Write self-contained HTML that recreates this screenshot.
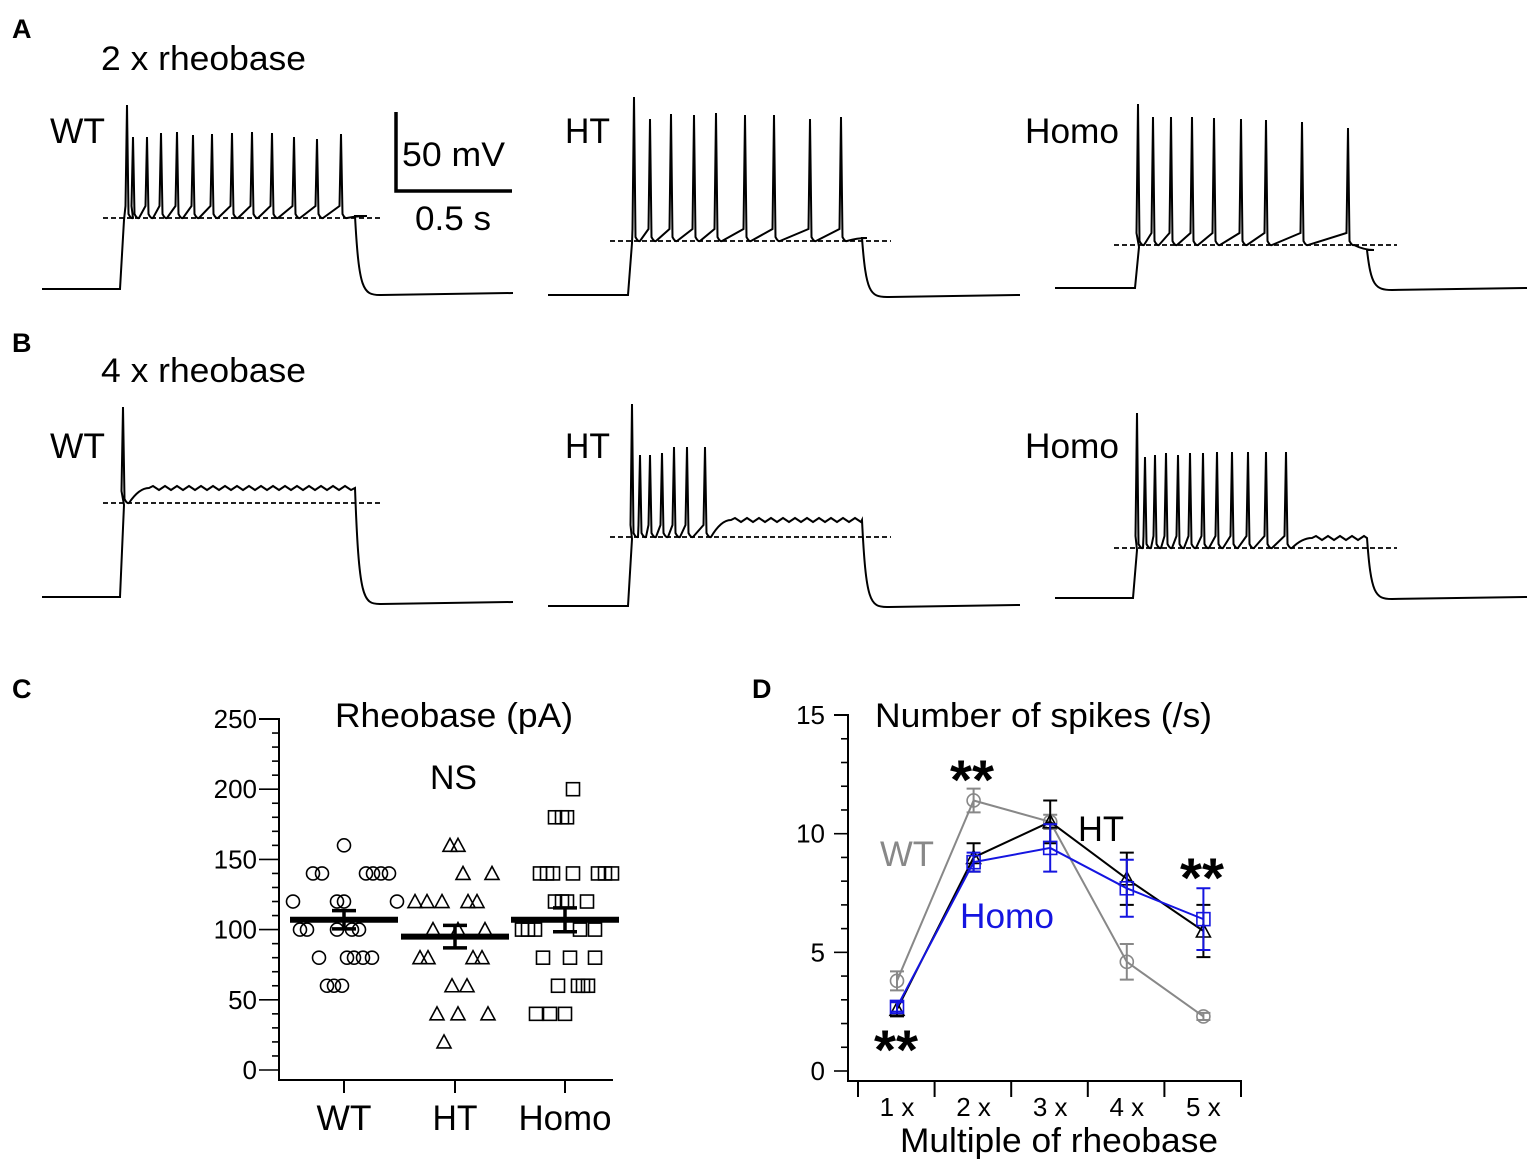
<!DOCTYPE html>
<html><head><meta charset="utf-8">
<style>
body{margin:0;background:#fff;}
svg{display:block;font-family:"Liberation Sans",Arial,sans-serif;}
</style></head>
<body>
<svg id="fig" width="1535" height="1165" viewBox="0 0 1535 1165" xmlns="http://www.w3.org/2000/svg">
<g id="panelA">
<text x="12" y="38" font-size="27" font-weight="bold">A</text>
<text x="101" y="70" font-size="34" textLength="205" lengthAdjust="spacingAndGlyphs">2 x rheobase</text>
<text x="50" y="143" font-size="35" textLength="55" lengthAdjust="spacingAndGlyphs">WT</text>
<text x="565" y="143" font-size="35" textLength="45" lengthAdjust="spacingAndGlyphs">HT</text>
<text x="1025" y="143" font-size="35" textLength="94" lengthAdjust="spacingAndGlyphs">Homo</text>
<path d="M396 112 V191 H512" fill="none" stroke="#000" stroke-width="3.5"/>
<text x="402" y="166" font-size="34" textLength="103" lengthAdjust="spacingAndGlyphs">50 mV</text>
<text x="415" y="230" font-size="34" textLength="76" lengthAdjust="spacingAndGlyphs">0.5 s</text>
</g>
<g id="panelB">
<text x="12" y="352" font-size="27" font-weight="bold">B</text>
<text x="101" y="382" font-size="34" textLength="205" lengthAdjust="spacingAndGlyphs">4 x rheobase</text>
<text x="50" y="458" font-size="35" textLength="55" lengthAdjust="spacingAndGlyphs">WT</text>
<text x="565" y="458" font-size="35" textLength="45" lengthAdjust="spacingAndGlyphs">HT</text>
<text x="1025" y="458" font-size="35" textLength="94" lengthAdjust="spacingAndGlyphs">Homo</text>
</g>
<g id="traces"></g>

<g id="panelC">
<text x="12" y="698" font-size="27" font-weight="bold">C</text>
<text x="335" y="727" font-size="34" textLength="238" lengthAdjust="spacingAndGlyphs">Rheobase (pA)</text>
<text x="430" y="789" font-size="34" textLength="47" lengthAdjust="spacingAndGlyphs">NS</text>
</g>
<g id="cplot"></g>

<g id="panelD">
<text x="752" y="698" font-size="27" font-weight="bold">D</text>
<text x="875" y="727" font-size="34" textLength="337" lengthAdjust="spacingAndGlyphs">Number of spikes (/s)</text>
<text x="900" y="1152" font-size="34" textLength="318" lengthAdjust="spacingAndGlyphs">Multiple of rheobase</text>
<text x="880" y="866" font-size="35" textLength="54" lengthAdjust="spacingAndGlyphs" fill="#888">WT</text>
<text x="1078" y="841" font-size="35" textLength="46" lengthAdjust="spacingAndGlyphs" fill="#000">HT</text>
<text x="960" y="928" font-size="35" textLength="94" lengthAdjust="spacingAndGlyphs" fill="#1515e0">Homo</text>
<text x="950" y="799" font-size="56" font-weight="bold" textLength="44" lengthAdjust="spacingAndGlyphs">**</text>
<text x="874" y="1069" font-size="56" font-weight="bold" textLength="44" lengthAdjust="spacingAndGlyphs">**</text>
<text x="1180" y="897" font-size="56" font-weight="bold" textLength="44" lengthAdjust="spacingAndGlyphs">**</text>
</g>
<g id="dplot"></g>
</svg>
<script>
const NS="http://www.w3.org/2000/svg";
function mk(tag,attrs,parent){const e=document.createElementNS(NS,tag);for(const k in attrs)e.setAttribute(k,attrs[k]);parent.appendChild(e);return e;}

// ---- Trace data (panels A, B) ----
const traceSpikeX = [
 [127,133,147,161,177,193,212,232,252,272,294,317,341],
 [634,650,671,694,716,745,774,810,841],
 [1138,1153,1171,1192,1214,1241,1266,1302,1348],
 [123],
 [632,640,650,662,674,687,705],
 [1137,1145,1155,1166,1178,1190,1203,1217,1232,1248,1266,1286]
];
const traceSpikePeak = [
 [105,137,137,133,132,135,134,133,132,133,137,139,134],
 [97,119,114,115,113,115,115,119,117],
 [104,117,117,117,118,119,120,122,128],
 [407],
 [404,455,455,453,447,447,447],
 [413,457,455,453,455,453,453,452,452,452,452,452]
];
// [x0, x1, stepX, endX, baseY, dashY, plateauY, tailY, dashX0, dashX1]
const traceFrames = [
 [42,513,120,355,289,218,216,295,103,383],
 [548,1020,628,862,295,241,238,297,610,891],
 [1055,1527,1135,1367,288,245,250,290,1114,1397],
 [42,513,120,355,597,503,488,604,103,383],
 [548,1020,628,862,606,537,520,607,610,891],
 [1055,1527,1133,1367,598,548,538,599,1114,1397]
];
const tg=document.getElementById('traces');
traceFrames.forEach((f,i)=>{
 const [x0,x1,sx,ex,by,dy,py,ty,dx0,dx1]=f;
 const sp=traceSpikeX[i], pk=traceSpikePeak[i];
 let d=`M${x0} ${by} L${sx} ${by} L${sx+4} ${dy+2}`;
 sp.forEach((s,j)=>{
   d+=` L${s-1.5} ${dy-12} L${s} ${pk[j]} L${s+1.5} ${dy-4} Q${s+4} ${dy+1} ${s+6} ${dy}`;
 });
 const last=sp[sp.length-1]+6;
 d+=` Q${last+10} ${py} ${last+20} ${py}`;
 let k=0;
 for(let x=last+24;x<ex;x+=6){d+=` L${x} ${py+((k++%2)?2:-2)}`;}
 d+=` L${ex} ${py} C${ex+4} ${ty-5} ${ex+8} ${ty} ${ex+25} ${ty} L${x1} ${ty-2}`;
 const p=mk('path',{d:d,fill:'none',stroke:'#000','stroke-width':2},tg);
 
 
 const l=mk('line',{x1:dx0,x2:dx1,y1:dy,y2:dy,stroke:'#000','stroke-width':1.8,'stroke-dasharray':'5 3'},tg);
 
 
});

// ---- Panel C data ----
const cCategories=['WT','HT','Homo'];
const cWTvals=[120,120,120,120,160,140,140,140,140,140,140,100,100,100,100,100,80,80,80,80,80,60,60,60];
const cWToff=[-51,-7,0,53,0,-31,-22,22,29,37,45,-44,-37,-7,8,15,-25,3,10,19,28,-17,-10,-2];
const cHTvals=[160,160,140,140,120,120,120,120,120,100,100,100,80,80,80,80,60,60,40,40,40,20];
const cHToff=[-5,3,8,37,-40,-28,-13,13,22,-22,3,30,-35,-27,18,27,-3,12,-18,3,33,-11];
const cHomovals=[200,180,180,180,140,140,140,140,140,140,140,120,120,120,120,100,100,100,100,100,80,80,80,60,60,60,60,40,40,40];
const cHomooff=[8,-10,-3,2,-25,-18,-12,8,33,40,47,-10,-3,2,22,-43,-37,-30,15,30,-22,5,30,-7,13,18,23,-29,-15,0];
const cMean=[107,95,107];
const cSEM=[6.5,8,8.5];
const cTicks=[0,50,100,150,200,250];
const cg=document.getElementById('cplot');
const cy=v=>1070-v*1.404;
const cx=i=>[344,455,565][i];
let a=mk('path',{d:'M259 719 H279 V1080 H613',fill:'none',stroke:'#000','stroke-width':2},cg);

for(let v=0;v<=250;v+=10){const t=mk('line',{x1:v%50?272:259,x2:279,y1:cy(v),y2:cy(v),stroke:'#000','stroke-width':1.6},cg);
 }
cTicks.forEach(v=>{const t=mk('text',{x:257,y:cy(v)+9,'font-size':26,'text-anchor':'end'},cg);t.textContent=v;
 });
const cLabW=[55,45,93];
cCategories.forEach((c,i)=>{
 const t=mk('line',{x1:cx(i),x2:cx(i),y1:1080,y2:1093,stroke:'#000','stroke-width':2},cg);
 
 const l=mk('text',{x:cx(i)-cLabW[i]/2,y:1130,'font-size':35,textLength:cLabW[i],lengthAdjust:'spacingAndGlyphs'},cg);l.textContent=c;
 
});
function marker(type,x,y,g,col){
 let e;
 if(type==0)e=mk('circle',{cx:x,cy:y,r:6.5,fill:'none',stroke:col,'stroke-width':1.6},g);
 else if(type==1)e=mk('path',{d:`M${x} ${y-7} L${x+7} ${y+6} L${x-7} ${y+6}Z`,fill:'none',stroke:col,'stroke-width':1.6},g);
 else e=mk('rect',{x:x-6.5,y:y-6.5,width:13,height:13,fill:'none',stroke:col,'stroke-width':1.6},g);
 return e;
}
[[cWTvals,cWToff],[cHTvals,cHToff],[cHomovals,cHomooff]].forEach(([vals,offs],i)=>{
 vals.forEach((v,j)=>{const m=marker(i,cx(i)+offs[j],cy(v),cg,'#000');
  });
 const mb=mk('line',{x1:cx(i)-54,x2:cx(i)+54,y1:cy(cMean[i]),y2:cy(cMean[i]),stroke:'#000','stroke-width':6},cg);
 
 const e=mk('path',{d:`M${cx(i)-12} ${cy(cMean[i]+cSEM[i])} H${cx(i)+12} M${cx(i)-12} ${cy(cMean[i]-cSEM[i])} H${cx(i)+12} M${cx(i)} ${cy(cMean[i]+cSEM[i])} V${cy(cMean[i]-cSEM[i])}`,stroke:'#000','stroke-width':3.5,fill:'none'},cg);
 
});

// ---- Panel D data ----
const dCategories=['1 x','2 x','3 x','4 x','5 x'];
const dWT=[3.8,11.4,10.5,4.6,2.3];
const dWTerr=[0.4,0.5,0.3,0.75,0.15];
const dHT=[2.6,9.0,10.5,8.1,5.9];
const dHTerr=[0.3,0.6,0.9,1.1,1.1];
const dHomo=[2.7,8.8,9.4,7.7,6.4];
const dHomoerr=[0.2,0.4,1.0,1.2,1.3];
const dTicks=[0,5,10,15];
const dg=document.getElementById('dplot');
const dy=v=>1071-v*23.73;
const dx=i=>897+i*76.6;
a=mk('path',{d:'M834 715 H848 V1081 H1242',fill:'none',stroke:'#000','stroke-width':2},dg);

for(let v=0;v<=15;v++){const t=mk('line',{x1:v%5?841:834,x2:848,y1:dy(v),y2:dy(v),stroke:'#000','stroke-width':1.6},dg);
 }
dTicks.forEach(v=>{const t=mk('text',{x:825,y:dy(v)+9,'font-size':26,'text-anchor':'end'},dg);t.textContent=v;
 });
for(let i=0;i<=5;i++){const x=858+i*76.6;const t=mk('line',{x1:x,x2:x,y1:1081,y2:1097,stroke:'#000','stroke-width':2},dg);
 }
dCategories.forEach((c,i)=>{const t=mk('text',{x:dx(i),y:1116,'font-size':26,'text-anchor':'middle'},dg);t.textContent=c;
 });
[[dWT,dWTerr,'#888',0,'wt'],[dHT,dHTerr,'#000',1,'ht'],[dHomo,dHomoerr,'#1515e0',2,'homo']].forEach(([vals,errs,col,type,nm])=>{
 const ln=mk('polyline',{points:vals.map((v,i)=>dx(i)+','+dy(v)).join(' '),fill:'none',stroke:col,'stroke-width':2},dg);
 
 vals.forEach((v,i)=>{
  const x=dx(i);
  const e=mk('path',{d:`M${x-7} ${dy(v+errs[i])} H${x+7} M${x-7} ${dy(v-errs[i])} H${x+7} M${x} ${dy(v+errs[i])} V${dy(v-errs[i])}`,stroke:col,'stroke-width':2,fill:'none'},dg);
  
  const m=marker(type,x,dy(v),dg,col);
  
 });
});
</script>
</body></html>
